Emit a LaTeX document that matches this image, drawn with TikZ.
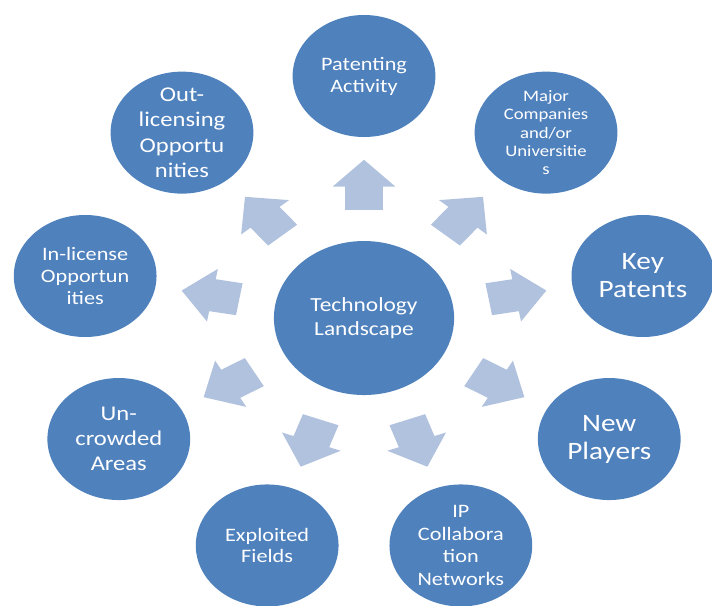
\documentclass[tikz,border=0pt]{standalone}
\usepackage{fontspec}
\setmainfont{Carlito}
\usetikzlibrary{shapes.arrows,calc}
\definecolor{bubble}{HTML}{4F81BD}
\definecolor{pale}{HTML}{B0C2DE}

\begin{document}
\begin{tikzpicture}[x=1pt, y=1pt, xscale=1.17, transform shape,
  hub/.style={circle, fill=bubble, text=white, minimum size=154pt, inner sep=0pt, align=center},
  topic/.style={circle, fill=bubble, text=white, minimum size=122pt, inner sep=0pt, align=center},
  blockarrow/.style={single arrow, fill=pale, minimum height=50pt, minimum width=53pt,
    single arrow head extend=10.5pt, single arrow tip angle=90, inner xsep=0pt, inner ysep=16pt}]
\useasboundingbox (-311.1,-287) rectangle (297.4,318);
%centre
\node[hub, font=\fontsize{20}{24}\selectfont] (tech) at (0,0) {Technology\\Landscape};
%topics and arrows round it
\foreach \i/\ang/\fs/\ls/\txt in {
  1/90/19/22/{Patenting\\Activity},
  2/50/16/18.3/{Major\\Companies\\and/or\\Universitie\\s},
  3/10/25/28/{Key\\Patents},
  4/-30/25/28/{New\\Players},
  5/-70/19/22.7/{IP\\Collabora\\tion\\Networks},
  6/-110/19/21.7/{Exploited\\Fields},
  7/-150/21/25/{Un-\\crowded\\Areas},
  8/170/19/22/{In-license\\Opportun\\ities},
  9/130/21/25.3/{Out-\\licensing\\Opportu\\nities}}{
  \node[topic, font=\fontsize{\fs}{\ls}\selectfont] (t\i) at (\ang:242) {\txt};
  \node[blockarrow, rotate=\ang] (a\i) at ($(tech)!0.517!(t\i)$) {};
}
\end{tikzpicture}
\end{document}
